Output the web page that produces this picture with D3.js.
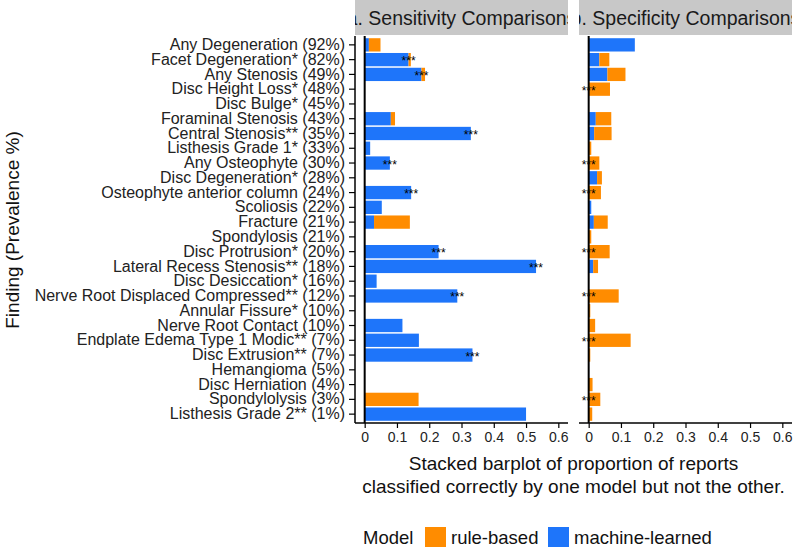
<!DOCTYPE html>
<html><head><meta charset="utf-8">
<script src="https://cdn.jsdelivr.net/npm/d3@7"></script>
<style>body{margin:0;background:#fff}svg{display:block;font-family:"Liberation Sans",Arial,sans-serif}</style>
</head><body><svg id="c" width="800" height="549"></svg>
<script>
const categories = ["Any Degeneration (92%)","Facet Degeneration* (82%)","Any Stenosis (49%)","Disc Height Loss* (48%)","Disc Bulge* (45%)","Foraminal Stenosis (43%)","Central Stenosis** (35%)","Listhesis Grade 1* (33%)","Any Osteophyte (30%)","Disc Degeneration* (28%)","Osteophyte anterior column (24%)","Scoliosis (22%)","Fracture (21%)","Spondylosis (21%)","Disc Protrusion* (20%)","Lateral Recess Stenosis** (18%)","Disc Desiccation* (16%)","Nerve Root Displaced Compressed** (12%)","Annular Fissure* (10%)","Nerve Root Contact (10%)","Endplate Edema Type 1 Modic** (7%)","Disc Extrusion** (7%)","Hemangioma (5%)","Disc Herniation (4%)","Spondylolysis (3%)","Listhesis Grade 2** (1%)"];
const sensML = [0.013,0.136,0.176,0,0,0.081,0.329,0.017,0.078,0,0.144,0.053,0.029,0,0.229,0.531,0.037,0.287,0,0.117,0.168,0.334,0,0,0,0.5];
const sensRB = [0.036,0.007,0.011,0,0,0.013,0,0,0,0,0,0,0.111,0,0,0,0,0,0,0,0,0,0,0,0.167,0];
const specML = [0.143,0.033,0.058,0,0,0.022,0.017,0,0,0.026,0,0.008,0.016,0,0,0.014,0,0,0,0,0,0,0,0,0,0];
const specRB = [0,0.031,0.056,0.066,0,0.048,0.054,0.008,0.033,0.015,0.038,0,0.043,0.008,0.065,0.015,0,0.093,0.005,0.02,0.13,0.005,0,0.012,0.036,0.011];
const sensStars = [0,1,1,0,0,0,1,0,1,0,1,0,0,0,1,1,0,1,0,0,0,1,0,0,0,0];
const specStars = [0,0,0,1,0,0,0,0,1,0,1,0,0,0,1,0,0,1,0,0,1,0,0,0,1,0];
const panelTitles = ["a. Sensitivity Comparisons","b. Specificity Comparisons"];
const xTicks = [0,0.1,0.2,0.3,0.4,0.5,0.6];
const modelNames = ["rule-based","machine-learned"];
const modelColors = ["#ff8c00","#1e75fa"];

const svg = d3.select("#c");
const pTop = 36, pBottom = 423;
const y = d3.scaleBand().domain(categories).range([pTop,pBottom]).paddingInner(0.1).paddingOuter(0.15);
const panels = [
  {x0:355,x1:568,ml:sensML,rb:sensRB,stars:sensStars,title:panelTitles[0],yaxis:true},
  {x0:579,x1:792,ml:specML,rb:specRB,stars:specStars,title:panelTitles[1],yaxis:false}
];
const defs = svg.append("defs");
panels.forEach((p,pi)=>{
  const x = d3.scaleLinear().domain([-0.03,0.63]).range([p.x0,p.x1]);
  const g = svg.append("g");
  defs.append("clipPath").attr("id","clip"+pi).append("rect").attr("x",p.x0).attr("y",0).attr("width",p.x1-p.x0).attr("height",pTop);
  g.append("rect").attr("x",p.x0).attr("y",0).attr("width",p.x1-p.x0).attr("height",pTop-1).attr("fill","#c8c8c8");
  g.append("text").attr("clip-path","url(#clip"+pi+")").attr("x",(p.x0+p.x1)/2).attr("y",25)
    .attr("text-anchor","middle").attr("font-size",19.5).attr("fill","#1a1a1a").text(p.title);
  g.selectAll(".ml").data(categories).join("rect").attr("class","ml")
    .attr("x",x(0)).attr("y",d=>y(d)).attr("height",y.bandwidth())
    .attr("width",(d,i)=>x(p.ml[i])-x(0)).attr("fill",modelColors[1]);
  g.selectAll(".rb").data(categories).join("rect").attr("class","rb")
    .attr("x",(d,i)=>x(p.ml[i])).attr("y",d=>y(d)).attr("height",y.bandwidth())
    .attr("width",(d,i)=>x(p.ml[i]+p.rb[i])-x(p.ml[i])).attr("fill",modelColors[0]);
  g.append("line").attr("x1",x(0)).attr("x2",x(0)).attr("y1",pTop).attr("y2",pBottom).attr("stroke","#000").attr("stroke-width",2);
  g.selectAll(".st").data(categories.filter((d,i)=>p.stars[i])).join("text").attr("class","st")
    .attr("x",d=>x(p.ml[categories.indexOf(d)])).attr("y",d=>y(d)+y.bandwidth()/2+5.5)
    .attr("text-anchor","middle").attr("font-size",12).attr("fill","#000").text("***");
  const ax = g.append("g").attr("transform",`translate(0,${pBottom})`)
    .call(d3.axisBottom(x).tickValues(xTicks).tickFormat(d3.format("~f")).tickSize(5).tickPadding(4));
  ax.select(".domain").attr("d",`M${p.x0},0H${p.x1}`).attr("stroke","#000").attr("stroke-width",1.5);
  ax.selectAll(".tick line").attr("stroke","#000").attr("stroke-width",1.2);
  ax.selectAll(".tick text").attr("font-size",14).attr("fill","#222").attr("font-family","Liberation Sans, Arial, sans-serif");
  if(p.yaxis){
    const ay = g.append("g").attr("transform",`translate(${p.x0},0)`)
      .call(d3.axisLeft(y).tickSize(6).tickPadding(4));
    ay.select(".domain").attr("d",`M0,${pTop}V${pBottom}`).attr("stroke","#000").attr("stroke-width",1.5);
    ay.selectAll(".tick line").attr("stroke","#000").attr("stroke-width",1.2);
    ay.selectAll(".tick text").attr("font-size",16).attr("fill","#222").attr("font-family","Liberation Sans, Arial, sans-serif");
  }
});
svg.append("text").attr("transform","translate(19,230) rotate(-90)").attr("text-anchor","middle")
  .attr("font-size",19).attr("fill","#111").text("Finding (Prevalence %)");
const xt = svg.append("text").attr("text-anchor","middle").attr("font-size",19).attr("fill","#111");
xt.append("tspan").attr("x",573.5).attr("y",470).text("Stacked barplot of proportion of reports");
xt.append("tspan").attr("x",573.5).attr("y",493).text("classified correctly by one model but not the other.");
const lg = svg.append("g");
lg.append("text").attr("x",363).attr("y",544).attr("font-size",18.5).attr("fill","#111").text("Model");
const keyX = [425,548], txtX=[451,574];
modelNames.forEach((m,i)=>{
  lg.append("rect").attr("x",keyX[i]).attr("y",527).attr("width",21).attr("height",20).attr("fill",modelColors[i]);
  lg.append("text").attr("x",txtX[i]).attr("y",544).attr("font-size",18.5).attr("fill","#111").text(m);
});
</script></body></html>
